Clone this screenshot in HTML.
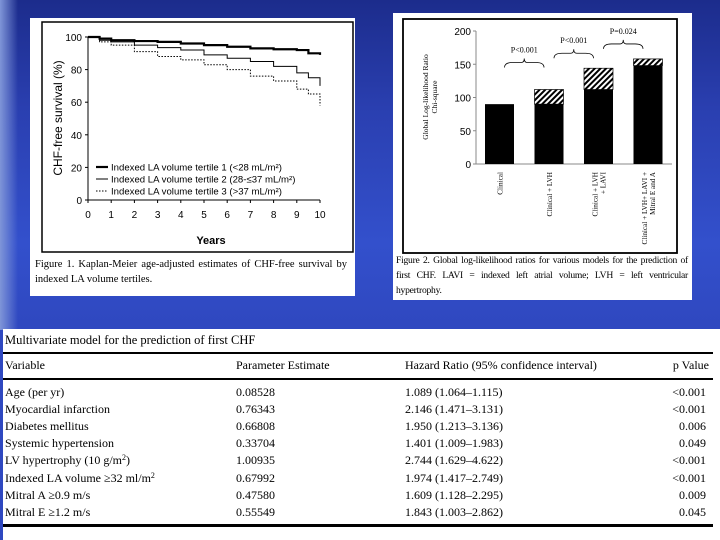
<!DOCTYPE html>
<html><head><meta charset="utf-8"><style>
body{margin:0;width:720px;height:540px;overflow:hidden;background:linear-gradient(180deg,#1c2c8c 0%,#2a3fb0 20%,#3350cc 45%,#2f48c0 60%);position:relative;font-family:"Liberation Serif",serif}
.abs{position:absolute}
sup{font-size:8px;line-height:0;vertical-align:4px}
</style></head><body>
<div class="abs" style="left:0;top:0;width:18px;height:330px;background:linear-gradient(90deg,#7f95d8,rgba(60,80,200,0))"></div>
<div class="abs" style="left:30px;top:18px;width:325px;height:278px;background:#fff"></div>
<div class="abs" style="left:393px;top:13px;width:299px;height:287px;background:#fff"></div>
<svg class="abs" style="left:0;top:0" width="720" height="330">
<defs><pattern id="hatch" width="4" height="4" patternUnits="userSpaceOnUse" patternTransform="rotate(45)"><rect width="4" height="4" fill="#fff"/><rect width="2" height="4" fill="#000"/></pattern></defs>
<g id="km"></g>
<g id="bar"></g>
</svg>
<div class="abs" style="left:35px;top:257px;width:312px;font-size:10.5px;line-height:15px;text-align:justify;text-align-last:left">Figure 1. Kaplan-Meier age-adjusted estimates of CHF-free survival by indexed LA volume tertiles.</div>
<div class="abs" style="left:396px;top:253px;width:292px;font-size:9.6px;letter-spacing:-0.25px;line-height:15px;text-align:justify;text-align-last:left">Figure 2. Global log-likelihood ratios for various models for the prediction of first CHF. LAVI = indexed left atrial volume; LVH = left ventricular hypertrophy.</div>
<div class="abs" style="left:3px;top:329px;width:717px;height:211px;background:#fff"></div>
<div class="abs" style="left:5px;top:333px;font-size:12.5px">Multivariate model for the prediction of first CHF</div>
<div class="abs" style="left:3px;top:352px;width:710px;height:1.5px;background:#000"></div>
<div class="abs" style="left:3px;top:378px;width:710px;height:1.5px;background:#000"></div>
<div class="abs" style="left:3px;top:524px;width:710px;height:2.5px;background:#000"></div>
<div id="tbl"></div>
<script>
// KM data
const kmYears=[0,0.5,1,2,3,4,5,6,7,8,9,9.5,10];
const tertile1=[100,99,98,97.5,97,96,95,94,93,92.5,92,90,89];
const tertile2=[100,98,97,95,93.5,92,89,87,85,82,78,75,70];
const tertile3=[100,97,95,91,88,86,83,80,76,73,68,65,58];
const kmYTicks=[0,20,40,60,80,100];
const kmXTicks=[0,1,2,3,4,5,6,7,8,9,10];
// Bar data
const barCats=[["Clinical"],["Clinical + LVH"],["Clinical + LVH","+ LAVI"],["Clinical + LVH+ LAVI +","Mitral E and A"]];
const barBase=[90,90,112,148];
const barAdded=[0,22,32,10];
const barYTicks=[0,50,100,150,200];
const pLabels=["P<0.001","P<0.001","P=0.024"];
const NS="http://www.w3.org/2000/svg";
function mk(p,t,a,txt){const e=document.createElementNS(NS,t);for(const k in a)e.setAttribute(k,a[k]);if(txt!=null)e.textContent=txt;p.appendChild(e);return e;}
// KM
const km=document.getElementById('km');
const kx=v=>88+v*23.2, ky=v=>200-v*1.63;
mk(km,'rect',{x:42,y:22,width:311,height:230,fill:'none',stroke:'#000','stroke-width':1.5});
mk(km,'line',{x1:88,y1:ky(100),x2:88,y2:200,stroke:'#000'});
mk(km,'line',{x1:88,y1:200,x2:kx(10),y2:200,stroke:'#000'});
kmYTicks.forEach(t=>{mk(km,'line',{x1:85,x2:88,y1:ky(t),y2:ky(t),stroke:'#000'});
 const e=mk(km,'text',{x:82,y:ky(t)+4,'text-anchor':'end','font-size':10,'font-family':'Liberation Sans'},t);});
kmXTicks.forEach(t=>{mk(km,'line',{x1:kx(t),x2:kx(t),y1:200,y2:203,stroke:'#000'});
 const e=mk(km,'text',{x:kx(t),y:218,'text-anchor':'middle','font-size':10,'font-family':'Liberation Sans'},t);});
mk(km,'text',{x:211,y:244,'text-anchor':'middle','font-size':11,'font-weight':'bold','font-family':'Liberation Sans'},'Years');
mk(km,'text',{transform:'translate(62,118) rotate(-90)','text-anchor':'middle','font-size':12,'font-family':'Liberation Sans'},'CHF-free survival (%)');
function step(arr){let d='M'+kx(kmYears[0])+','+ky(arr[0]);for(let i=1;i<arr.length;i++){d+=' H'+kx(kmYears[i])+' V'+ky(arr[i]);}return d;}
[[tertile1,2.2,''],[tertile2,1,''],[tertile3,1,'1.5,1.5']].forEach((s,i)=>{const p=mk(km,'path',{d:step(s[0]),fill:'none',stroke:'#000','stroke-width':s[1],'stroke-dasharray':s[2]});});
const legTxt=['Indexed LA volume tertile 1 (<28 mL/m²)','Indexed LA volume tertile 2 (28-≤37 mL/m²)','Indexed LA volume tertile 3 (>37 mL/m²)'];
legTxt.forEach((t,i)=>{const y=167+i*12;const g=mk(km,'g',{});
 mk(g,'line',{x1:96,x2:108,y1:y,y2:y,stroke:'#000','stroke-width':[2.2,1,1][i],'stroke-dasharray':['','','1.5,1.5'][i]});
 mk(g,'text',{x:111,y:y+3.5,'font-size':9.6,'font-family':'Liberation Sans'},t);});
// Bars
const bar=document.getElementById('bar');
const by=v=>164-v*0.665, bx=i=>485+i*49.5, bw=29;
mk(bar,'rect',{x:403,y:19,width:274,height:234,fill:'none',stroke:'#000','stroke-width':1.8});
mk(bar,'line',{x1:476,x2:476,y1:by(200),y2:164,stroke:'#888'});
mk(bar,'line',{x1:476,x2:672,y1:164,y2:164,stroke:'#888'});
barYTicks.forEach(t=>{mk(bar,'line',{x1:473,x2:476,y1:by(t),y2:by(t),stroke:'#888'});
 const e=mk(bar,'text',{x:471,y:by(t)+4,'text-anchor':'end','font-size':10,'font-family':'Liberation Sans'},t);});
mk(bar,'text',{transform:'translate(428,97) rotate(-90)','text-anchor':'middle','font-size':7.5},'Global Log-likelihood Ratio');
mk(bar,'text',{transform:'translate(437,97) rotate(-90)','text-anchor':'middle','font-size':7.5},'Chi-square');
barCats.forEach((c,i)=>{
 const r=mk(bar,'rect',{x:bx(i),y:by(barBase[i]),width:bw,height:164-by(barBase[i]),fill:'#000'});
 if(barAdded[i]>0){const h=mk(bar,'rect',{x:bx(i),y:by(barBase[i]+barAdded[i]),width:bw,height:by(barBase[i])-by(barBase[i]+barAdded[i]),fill:'url(#hatch)',stroke:'#000','stroke-width':0.7});}
 c.forEach((l,j)=>{const cx=bx(i)+bw/2+(j-(c.length-1)/2)*8+3;mk(bar,'text',{transform:`translate(${cx},172) rotate(-90)`,'text-anchor':'end','font-size':7.2},l);});
});
pLabels.forEach((p,i)=>{const x1=bx(i)+bw/2+5,x2=bx(i+1)+bw/2-5,top=Math.max(barBase[i]+barAdded[i],barBase[i+1]+barAdded[i+1]);const y=by(top)-15-(i===0?12:0);const m=(x1+x2)/2;
 mk(bar,'path',{d:`M${x1},${y+5} Q${x1},${y} ${x1+8},${y} H${m-3} Q${m},${y} ${m},${y-4} Q${m},${y} ${m+3},${y} H${x2-8} Q${x2},${y} ${x2},${y+5}`,fill:'none',stroke:'#000','stroke-width':0.8});
 const t=mk(bar,'text',{x:m,y:y-10,'text-anchor':'middle','font-size':8},p);});
// Table
const rows=[["Age (per yr)","0.08528","1.089 (1.064–1.115)","<0.001"],["Myocardial infarction","0.76343","2.146 (1.471–3.131)","<0.001"],["Diabetes mellitus","0.66808","1.950 (1.213–3.136)","0.006"],["Systemic hypertension","0.33704","1.401 (1.009–1.983)","0.049"],["LV hypertrophy (10 g/m<sup>2</sup>)","1.00935","2.744 (1.629–4.622)","<0.001"],["Indexed LA volume ≥32 ml/m<sup>2</sup>","0.67992","1.974 (1.417–2.749)","<0.001"],["Mitral A ≥0.9 m/s","0.47580","1.609 (1.128–2.295)","0.009"],["Mitral E ≥1.2 m/s","0.55549","1.843 (1.003–2.862)","0.045"]];
const tbl=document.getElementById('tbl');
function cell(txt,y,x,right,name){const d=document.createElement('div');d.className='abs';d.style.cssText=`top:${y}px;font-size:12px;line-height:14px;white-space:nowrap;`+(right?`right:${720-x}px`:`left:${x}px`);d.innerHTML=txt;
 
 
 tbl.appendChild(d);}
cell('Variable',358,5,false,'header-variable');cell('Parameter Estimate',358,236,false,'header-estimate');cell('Hazard Ratio (95% confidence interval)',358,405,false,'header-hazard');cell('p Value',358,709,true,'header-p');
rows.forEach((r,i)=>{const y=385+i*17.1;cell(r[0],y,5,false,'cell-variable');cell(r[1],y,236,false,'cell-estimate');cell(r[2],y,405,false,'cell-hazard');cell(r[3],y,706,true,'cell-p');});
</script>
</body></html>
